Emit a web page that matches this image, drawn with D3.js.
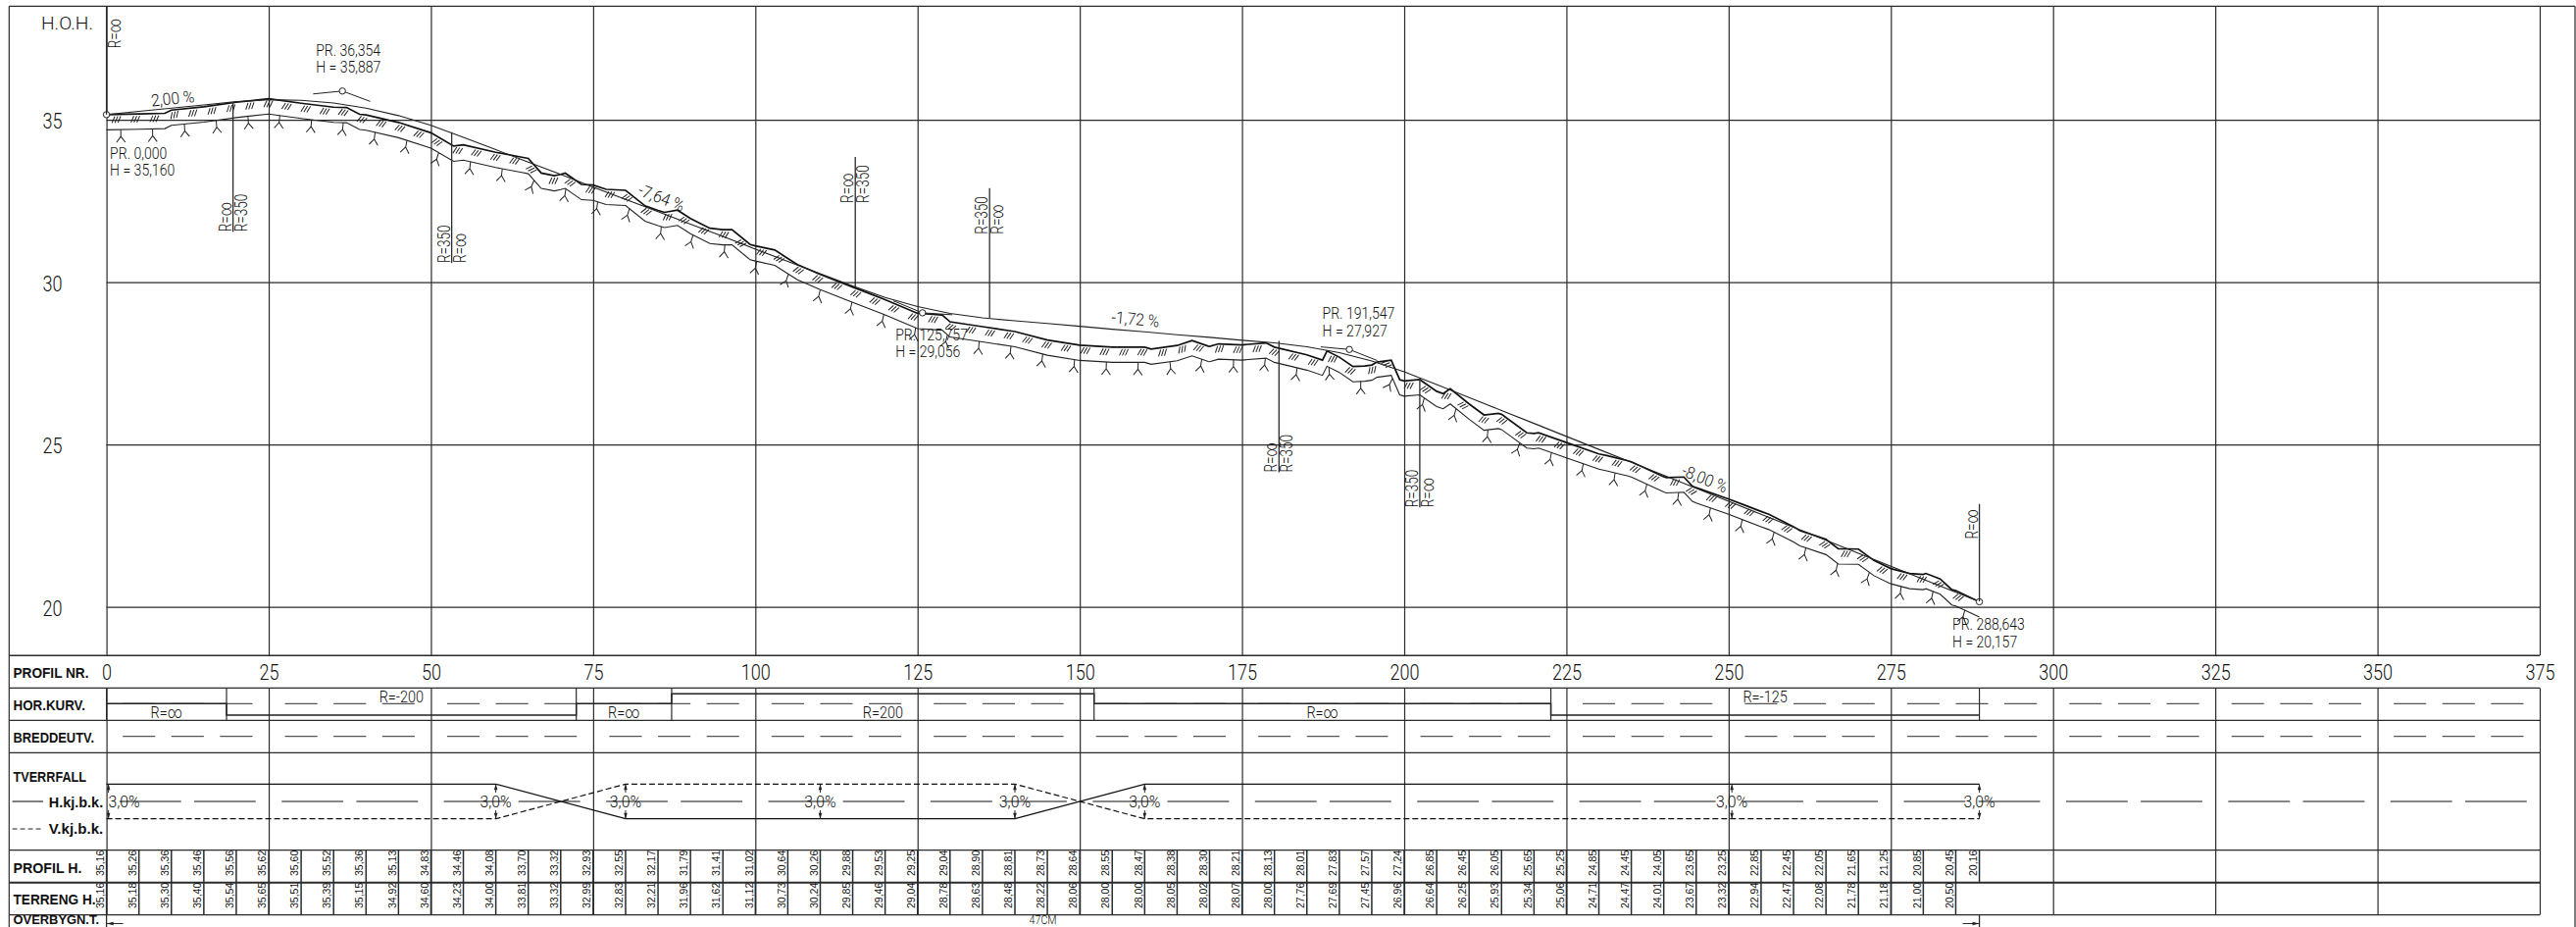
<!DOCTYPE html>
<html>
<head>
<meta charset="utf-8">
<script src="https://cdn.jsdelivr.net/npm/d3@7"></script>
<style>
  body { margin: 0; background: #fff; }
  svg { display: block; }
  text { font-family: Roboto, "Liberation Sans", sans-serif; font-weight: 300; fill: #111; }
  text.cell { font-family: "Liberation Sans", sans-serif; font-weight: 400; fill: #111; }
  text.title { font-family: "Liberation Sans", sans-serif; font-weight: 700; fill: #111; }
</style>
</head>
<body>
<div id="chart-area"></div>
<script>
// table values, one every 5 m plus the end of the line
const profilH = [35.16,35.26,35.36,35.46,35.56,35.62,35.60,35.52,35.36,35.13,34.83,34.46,34.08,33.70,33.32,32.93,32.55,32.17,31.79,31.41,
  31.02,30.64,30.26,29.88,29.53,29.25,29.04,28.90,28.81,28.73,28.64,28.55,28.47,28.38,28.30,28.21,28.13,28.01,27.83,27.57,
  27.24,26.85,26.45,26.05,25.65,25.25,24.85,24.45,24.05,23.65,23.25,22.85,22.45,22.05,21.65,21.25,20.85,20.45,20.16];
const terrengH = [35.16,35.18,35.30,35.40,35.54,35.65,35.51,35.39,35.15,34.92,34.60,34.23,34.00,33.81,33.32,32.99,32.83,32.21,31.96,31.62,
  31.12,30.73,30.24,29.85,29.46,29.04,28.78,28.63,28.48,28.22,28.06,28.00,28.00,28.05,28.02,28.07,28.00,27.76,27.69,27.45,
  26.96,26.64,26.25,25.93,25.34,25.06,24.71,24.47,24.01,23.67,23.32,22.94,22.47,22.08,21.78,21.18,21.00,20.50];
const endStation = 288.643;

// terrain line and formation line
const terrainSt = [0,5,9,10,15,20,25,30,35,37,
  39,40,45,50,53.5,55,60,64,65,67,
  69,70,70.7,73.2,75,77,80,83,85,86,
  88,90,93,95,96.4,99.2,100,103,105,106.5,
  110,115,120,125,125.8,128.8,130,135,140,145,
  150,155,160,161,165,167.3,169.8,170,171.4,175,
  178.7,180,185,187.4,188.1,190,192.1,193.9,195,195.8,
  198,199.3,200,202.4,205,206,207.1,210,212.3,214.5,
  215,218.9,220,220.7,225,230,231.2,234.5,235,240,
  240.4,243.1,244.4,245,250,255,256.2,260,261,265,
  266.9,270,272.4,275,277.9,280,280.4,282.6,284.4,285,
  288.643];
const terrainH = [35.16,35.18,35.20,35.30,35.40,35.54,35.65,35.51,35.39,35.38,
  35.17,35.15,34.92,34.60,34.19,34.23,34.00,33.85,33.81,33.36,
  33.28,33.32,33.36,33.01,32.99,32.86,32.83,32.35,32.21,32.15,
  32.22,31.96,31.66,31.62,31.62,31.16,31.12,30.99,30.73,30.54,
  30.24,29.85,29.46,29.04,29.03,28.99,28.78,28.63,28.48,28.22,
  28.06,28.00,28.00,27.94,28.05,28.20,28.03,28.02,28.10,28.07,
  28.13,28.00,27.76,27.60,27.88,27.69,27.40,27.42,27.45,27.54,
  27.60,27.00,26.96,27.00,26.64,26.57,26.72,26.25,25.91,25.96,
  25.93,25.36,25.34,25.36,25.06,24.71,24.66,24.50,24.47,24.01,
  23.98,24.00,23.72,23.67,23.32,22.94,22.85,22.47,22.35,22.08,
  21.79,21.78,21.43,21.18,21.03,21.00,21.03,20.86,20.53,20.50,
  20.157];
const planumH = [34.69,34.71,34.73,34.83,34.93,35.07,35.18,35.04,34.92,34.91,
  34.70,34.68,34.45,34.13,33.72,33.76,33.53,33.38,33.34,32.89,
  32.81,32.85,32.89,32.54,32.52,32.39,32.36,31.88,31.74,31.68,
  31.75,31.49,31.19,31.15,31.15,30.69,30.65,30.52,30.26,30.07,
  29.77,29.38,28.99,28.57,28.56,28.52,28.31,28.16,28.01,27.75,
  27.59,27.53,27.53,27.47,27.58,27.73,27.56,27.55,27.63,27.60,
  27.66,27.53,27.29,27.13,27.41,27.22,26.93,26.95,26.98,27.07,
  27.13,26.53,26.49,26.53,26.17,26.10,26.25,25.78,25.44,25.49,
  25.46,24.89,24.87,24.89,24.59,24.24,24.19,24.03,24.00,23.54,
  23.51,23.53,23.25,23.20,22.85,22.47,22.38,22.00,21.88,21.61,
  21.32,21.31,20.96,20.71,20.56,20.53,20.56,20.39,20.06,20.03,
  19.69];

// grade break points
const pviSt = [0, 36.354, 125.757, 191.547, 288.643];
const pviH = [35.16, 35.887, 29.056, 27.927, 20.157];
const pviLabels = ["PR. 0,000", "PR. 36,354", "PR. 125,757", "PR. 191,547", "PR. 288,643"];
const pviHLabels = ["H = 35,160", "H = 35,887", "H = 29,056", "H = 27,927", "H = 20,157"];
const gradeLabels = ["2,00 %", "-7,64 %", "-1,72 %", "-8,00 %"];
const gradeSt = [10.3, 85.2, 158.5, 246];
const gradeH = [35.48, 32.43, 28.68, 23.78];

// vertical curve markers
const markerSt = [0, 19.5, 53.2, 115.4, 136.1, 180.7, 202.4, 288.643];
const markerTop = [38.5, 35.55, 34.62, 33.86, 32.9, 28.19, 27.04, 23.17];
const markerBottom = [35.16, 31.55, 30.59, 29.85, 28.9, 24.14, 23.06, 20.17];
const markerLeft = ["", "R=∞", "R=350", "R=∞", "R=350", "R=∞", "R=350", "R=∞"];
const markerRight = ["R=∞", "R=350", "R=∞", "R=350", "R=∞", "R=350", "R=∞", ""];
const markerTextH = [37.2, 31.55, 30.59, 32.44, 31.48, 24.14, 23.06, 22.09];

// table rows
const rowLabels = ["PROFIL NR.", "HOR.KURV.", "BREDDEUTV.", "TVERRFALL", "PROFIL H.", "TERRENG H.", "OVERBYGN.T."];
const kjLabels = ["H.kj.b.k.", "V.kj.b.k."];
const curveSt = [0, 18.5, 72.4, 87.1, 152.2, 222.6, 288.643];
const curveSign = [0, -1, 0, 1, 0, -1, -1];
const curveLabels = ["R=∞", "R=-200", "R=∞", "R=200", "R=∞", "R=-125"];
const fallSt = [0, 60, 80, 140, 160, 288.643];
const fallH = [3, 3, -3, -3, 3, 3];
const fallV = [-3, -3, 3, 3, -3, -3];
const fallNoteSt = [0, 60, 80, 110, 140, 160, 250.5, 288.643];
const fallNote = "3,0%";
const overbygning = "47CM";

const yTicks = [35, 30, 25, 20];
const stationTicks = d3.range(0, 376, 25);

const W = 2627, H = 945;
const frameLeft = 9.3, outerRight = 2626, plotTop = 6.3, plotBottom = 668.3;
const rowY = [701.3, 734.3, 767.3, 866.7, 899.7, 932.7];

const x = d3.scaleLinear().domain([0, 375]).range([108.6, 2590]);
const y = d3.scaleLinear().domain([18.5, 38.5]).range([plotBottom, plotTop]);
const yFall = d3.scaleLinear().domain([3, -3]).range([799.3, 834.7]);
const yCurve = d3.scaleLinear().domain([-1, 0, 1]).range([729, 717.3, 707.3]);

const svg = d3.select("#chart-area").append("svg")
  .attr("width", W).attr("height", H);

const ink = "#2b2b2b";

function hline(y0, x0, x1, w) {
  svg.append("line").attr("x1", x0).attr("x2", x1).attr("y1", y0).attr("y2", y0)
    .attr("stroke", ink).attr("stroke-width", w || 1.2);
}
function vline(x0, y0, y1, w) {
  svg.append("line").attr("x1", x0).attr("x2", x0).attr("y1", y0).attr("y2", y1)
    .attr("stroke", ink).attr("stroke-width", w || 1.2);
}
// the drawing font is narrow, so squeeze the glyphs
function condense(sel, k) {
  sel.each(function() {
    this.setAttribute("textLength", this.getComputedTextLength() * k);
    this.setAttribute("lengthAdjust", "spacingAndGlyphs");
  });
}
function label(str, px, py, size, opts) {
  opts = opts || {};
  const t = svg.append("text").attr("x", px).attr("y", py)
    .attr("font-size", size).attr("text-anchor", opts.anchor || "start").text(str);
  if (opts.cls) t.attr("class", opts.cls);
  if (opts.len) t.attr("textLength", opts.len).attr("lengthAdjust", "spacingAndGlyphs");
  if (opts.k) condense(t, opts.k);
  if (opts.rotate !== undefined) t.attr("transform", "rotate(" + opts.rotate + "," + px + "," + py + ")");
  return t;
}

// Frame
hline(plotTop, frameLeft, outerRight);
vline(frameLeft, plotTop, H);
vline(outerRight, plotTop, H);
hline(plotBottom, frameLeft, x(375), 1.6);
rowY.forEach((v, i) => hline(v, frameLeft, x(375), i === 4 ? 2 : 1.3));

// Grid of the profile
const gridX = d3.axisTop(x).tickValues(stationTicks).tickSize(-(plotBottom - plotTop)).tickFormat("");
const gx = svg.append("g").attr("transform", "translate(0," + plotTop + ")").call(gridX);
gx.select(".domain").remove();
gx.selectAll("line").attr("stroke", ink).attr("stroke-width", 1.2);

const axisY = d3.axisLeft(y).tickValues(yTicks).tickSize(-(x(375) - x(0))).tickPadding(45).tickFormat(d => d);
const gy = svg.append("g").attr("transform", "translate(" + x(0) + ",0)").call(axisY);
gy.select(".domain").remove();
gy.selectAll("line").attr("stroke", ink).attr("stroke-width", 1.2);
gy.attr("font-family", null);
gy.selectAll("text").attr("font-size", 22).attr("dy", "0.38em").call(condense, 0.82);

label("H.O.H.", 42, 30, 19, { len: 53 });

// Station axis in the first row
const axisX = d3.axisBottom(x).tickValues(stationTicks).tickSize(0).tickPadding(9).tickFormat(d => d);
const gs = svg.append("g").attr("transform", "translate(0," + plotBottom + ")").call(axisX);
gs.select(".domain").remove();
gs.attr("font-family", null);
gs.selectAll("text").attr("font-size", 22).call(condense, 0.82);

// Verticals through the table rows
const gridRows = d3.axisBottom(x).tickValues(stationTicks).tickSize(rowY[5] - rowY[0]).tickFormat("");
const gr = svg.append("g").attr("transform", "translate(0," + rowY[0] + ")").call(gridRows);
gr.select(".domain").remove();
gr.selectAll("line").attr("stroke", ink).attr("stroke-width", 1.2);

// Profile lines
const pts = (st, h) => st.map((s, i) => [s, h[i]]);
const line = d3.line().x(d => x(d[0])).y(d => y(d[1]));
const stations = d3.range(0, 286, 5).concat([endStation]);

svg.append("path").attr("d", line(pts(terrainSt, terrainH)))
  .attr("fill", "none").attr("stroke", "#111").attr("stroke-width", 1.7);
svg.append("path").attr("d", line(pts(terrainSt, planumH)))
  .attr("fill", "none").attr("stroke", "#222").attr("stroke-width", 1.1);
svg.append("path").attr("d", line(pts(stations, profilH)))
  .attr("fill", "none").attr("stroke", "#222").attr("stroke-width", 1.1);

// Symbols along the lines, turned with the slope
function along(st, h, s) {
  const i = Math.min(d3.bisectLeft(st, s), st.length - 1);
  const a = Math.max(i - 1, 0);
  const f = st[i] === st[a] ? 0 : (s - st[a]) / (st[i] - st[a]);
  return h[a] + f * (h[i] - h[a]);
}
function slope(st, h, s) {
  const dy = y(along(st, h, s + 1.5)) - y(along(st, h, s - 1.5));
  return Math.atan2(dy, x(s + 1.5) - x(s - 1.5)) * 180 / Math.PI;
}

const hatch = svg.append("g").attr("stroke", "#222").attr("stroke-width", 1).attr("fill", "none");
d3.range(1.5, 287, 2.93).forEach(s => {
  const g = hatch.append("g")
    .attr("transform", "translate(" + x(s) + "," + y(along(terrainSt, terrainH, s)) + ") rotate(" + slope(terrainSt, terrainH, s) + ")");
  [-3, 0, 3].forEach(d => g.append("line")
    .attr("x1", d - 1.5).attr("y1", 8.5).attr("x2", d + 1.5).attr("y2", 2));
});

const roots = svg.append("g").attr("stroke", "#222").attr("stroke-width", 1).attr("fill", "none");
d3.range(2.2, 287, 4.9).forEach(s => {
  roots.append("path").attr("d", "M0,0V7M0,7L-4.5,13M0,7L4.5,13")
    .attr("transform", "translate(" + x(s) + "," + y(along(terrainSt, planumH, s)) + ") rotate(" + slope(terrainSt, planumH, s) * 0.6 + ")");
});

// Grade break points, with the short tangent stubs
const stubBefore = [null, [-4.5, -0.09], [-4.5, 0.37], [-4.4, 0.08], null];
const stubAfter = [null, [4.3, -0.32], [4.6, -0.06], [4.3, -0.34], null];
pviSt.forEach((s, i) => {
  [stubBefore[i], stubAfter[i]].forEach(d => {
    if (!d) return;
    svg.append("line").attr("x1", x(s)).attr("y1", y(pviH[i]))
      .attr("x2", x(s + d[0])).attr("y2", y(pviH[i] + d[1]))
      .attr("stroke", "#222").attr("stroke-width", 1);
  });
  svg.append("circle").attr("cx", x(s)).attr("cy", y(pviH[i])).attr("r", 3.2)
    .attr("fill", "#fff").attr("stroke", "#222").attr("stroke-width", 1);
});

const pviDx = [3.5, -27, -27.5, -27.5, -27.5];
const pviDy = [45, -36, 28, -31, 29];
pviSt.forEach((s, i) => {
  label(pviLabels[i], x(s) + pviDx[i], y(pviH[i]) + pviDy[i], 16.5, { k: 0.85 });
  label(pviHLabels[i], x(s) + pviDx[i], y(pviH[i]) + pviDy[i] + 17.5, 16.5, { k: 0.85 });
});

const gradeRot = [-5.7, 21, 4.9, 21.8];
gradeLabels.forEach((t, i) => {
  label(t, x(gradeSt[i]), y(gradeH[i]), 17, { anchor: "middle", rotate: gradeRot[i], k: 0.92 });
});

// Vertical curve markers
markerSt.forEach((s, i) => {
  vline(x(s), y(markerTop[i]), y(markerBottom[i]), 1.3);
  const b = y(markerTextH[i]);
  if (markerLeft[i]) label(markerLeft[i], x(s) - 2, b, 18, { rotate: -90, k: 0.75 });
  if (markerRight[i]) label(markerRight[i], x(s) + 14, b, 18, { rotate: -90, k: 0.75 });
});

// Row titles
const titleX = 13.5;
const titleY = [690.5, 723.5, 757, 796.5, 889.5, 922, 942];
const titleLen = [77, 73.5, 82.5, 74.5, 70, 84, 87.5];
rowLabels.forEach((t, i) => label(t, titleX, titleY[i], i === 6 ? 12.5 : 14.5, { cls: "title", len: titleLen[i] }));

// Dashed centre lines of the rows
const rowDashes = [2.5, 10, 17.5];
[717.3, 750.7].forEach(py => {
  d3.range(0, 375, 25).forEach(c => rowDashes.forEach(d => {
    svg.append("line").attr("x1", x(c + d)).attr("x2", x(c + d + 5)).attr("y1", py).attr("y2", py)
      .attr("stroke", "#555").attr("stroke-width", 1.2);
  }));
});
const fallDashes = [2, 13.5];
d3.range(0, 375, 25).forEach(c => fallDashes.forEach(d => {
  svg.append("line").attr("x1", x(c + d)).attr("x2", x(c + d + 9.5)).attr("y1", 817).attr("y2", 817)
    .attr("stroke", "#111").attr("stroke-width", 1.2);
}));

// HOR.KURV. steps
const stepLine = d3.line().curve(d3.curveStepAfter).x(d => x(d[0])).y(d => yCurve(d[1]));
svg.append("path").attr("d", stepLine(pts(curveSt, curveSign)))
  .attr("fill", "none").attr("stroke", "#222").attr("stroke-width", 1.5);
curveSt.forEach(s => vline(x(s), rowY[0], rowY[1], 1.2));
curveLabels.forEach((t, i) => {
  const mid = (curveSt[i] + curveSt[i + 1]) / 2;
  label(t, x(mid), curveSign[i] < 0 ? 716 : 732, 17, { anchor: "middle", k: 0.85 });
});

// TVERRFALL lines
const fallLine = d3.line().x(d => x(d[0])).y(d => yFall(d[1]));
svg.append("path").attr("d", fallLine(pts(fallSt, fallH)))
  .attr("fill", "none").attr("stroke", "#111").attr("stroke-width", 1.2);
svg.append("path").attr("d", fallLine(pts(fallSt, fallV)))
  .attr("fill", "none").attr("stroke", "#111").attr("stroke-width", 1.2).attr("stroke-dasharray", "6,3");

fallNoteSt.forEach((s, i) => {
  const px = x(s) + (i === 0 ? 2 : 0);
  vline(px, yFall(3), 808, 1);
  vline(px, 826, yFall(-3), 1);
  svg.append("path").attr("d", "M" + px + "," + yFall(3) + "l-1.8,6h3.6z").attr("fill", "#222");
  svg.append("path").attr("d", "M" + px + "," + yFall(-3) + "l-1.8,-6h3.6z").attr("fill", "#222");
  const tx = i === 0 ? x(s) + 18 : x(s);
  label(fallNote, tx, 823, 17, { anchor: "middle", k: 0.93 });
});

// Legend of the TVERRFALL row
hline(817, 12.6, 44, 1.2);
svg.append("line").attr("x1", 12.6).attr("x2", 44).attr("y1", 845).attr("y2", 845)
  .attr("stroke", "#222").attr("stroke-width", 1.1).attr("stroke-dasharray", "5,3");
kjLabels.forEach((t, i) => label(t, 49.7, i === 0 ? 823 : 850, 14.5, { cls: "title", len: 55.5 }));

// 5 m cells with the height values
stations.forEach((s, i) => {
  vline(x(s), rowY[3], rowY[4], 1.5);
  if (i < terrengH.length) vline(x(s), rowY[4], rowY[5], 1.5);
});
stations.forEach((s, i) => {
  label(d3.format(".2f")(profilH[i]).replace(".", ","), x(s) - 2.8, 893, 10.5, { rotate: -90, cls: "cell" });
  if (i < terrengH.length) label(d3.format(".2f")(terrengH[i]).replace(".", ","), x(s) - 2.8, 926, 10.5, { rotate: -90, cls: "cell" });
});

// OVERBYGN.T. row, the arrows at both ends of the layer
[[0, 17], [endStation, -17]].forEach(d => {
  vline(x(d[0]), rowY[5], H, 1.3);
  hline(941.5, x(d[0]), x(d[0]) + d[1], 1);
  svg.append("path").attr("d", "M" + x(d[0]) + ",941.5l" + (d[1] > 0 ? 7 : -7) + ",-1.8v3.6z").attr("fill", "#222");
});
label(overbygning, x(endStation / 2), 941.5, 12.5, { anchor: "middle", len: 28 });
</script>
</body>
</html>
